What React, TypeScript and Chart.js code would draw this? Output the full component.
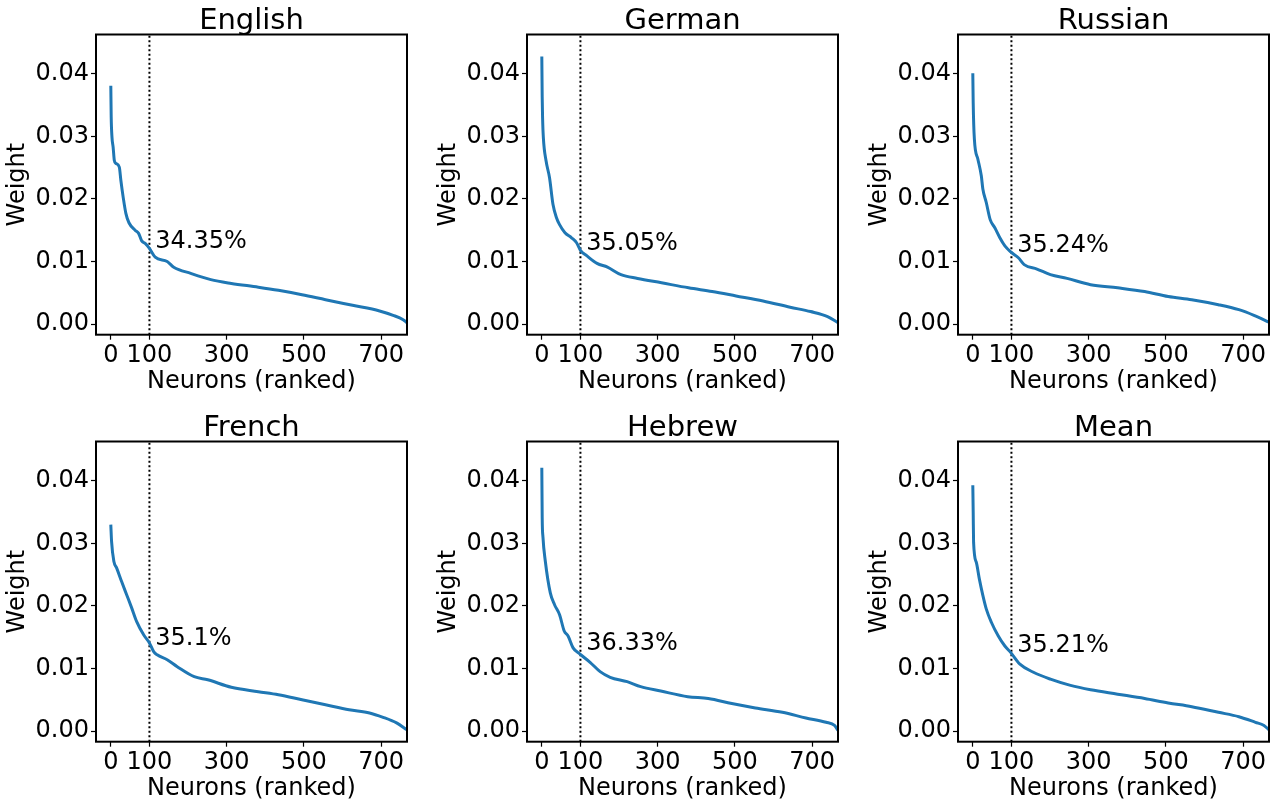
import React, { useEffect, useRef } from "react";
import { Chart, registerables } from "chart.js";

Chart.register(...registerables);

// ---------- data ----------
const TITLES = ["English", "German", "Russian", "French", "Hebrew", "Mean"];
const PERCENT_LABELS = ["34.35%", "35.05%", "35.24%", "35.1%", "36.33%", "35.21%"];
const LABEL_Y = [0.0121, 0.0119, 0.0116, 0.0138, 0.0129, 0.0126];
const LABEL_X = 115;
const CUTOFF = 100;
const X_TICKS = [0, 100, 300, 500, 700];
const Y_TICKS = [0, 0.01, 0.02, 0.03, 0.04];
const X_MIN = -38.35;
const X_MAX = 767;
const Y_MIN = -0.0017;
const Y_MAX = 0.0463;

const englishRanks = [0, 1, 3, 6, 9, 13, 22, 26, 32, 39, 47, 63, 72, 80, 89, 100, 115, 146, 163, 207, 259, 312, 382, 434, 495, 556, 626, 696, 731, 757, 767];
const englishWeights = [0.0381, 0.0331, 0.0299, 0.0283, 0.0262, 0.0257, 0.0251, 0.023, 0.0203, 0.0177, 0.0162, 0.015, 0.0145, 0.0133, 0.0129, 0.0121, 0.0107, 0.01, 0.0091, 0.0081, 0.0071, 0.0065, 0.0059, 0.0054, 0.0047, 0.0039, 0.003, 0.0021, 0.0014, 0.0007, 0.0002];

const germanRanks = [0, 1, 2, 4, 11, 20, 29, 38, 46, 60, 77, 90, 100, 117, 143, 170, 205, 248, 310, 380, 441, 503, 573, 643, 696, 740, 767];
const germanWeights = [0.0428, 0.0363, 0.033, 0.0298, 0.0261, 0.0234, 0.0191, 0.017, 0.0159, 0.0146, 0.0138, 0.013, 0.0118, 0.0109, 0.0097, 0.0091, 0.0079, 0.0073, 0.0066, 0.0058, 0.0052, 0.0045, 0.0037, 0.0027, 0.002, 0.0012, 0.0002];

const russianRanks = [0, 1, 4, 13, 22, 26, 35, 45, 57, 70, 83, 99, 118, 133, 166, 201, 244, 305, 375, 445, 506, 567, 636, 689, 728, 767];
const russianWeights = [0.0401, 0.0354, 0.0296, 0.0264, 0.0237, 0.0216, 0.0194, 0.0167, 0.0154, 0.0138, 0.0125, 0.0115, 0.0106, 0.0095, 0.0088, 0.0079, 0.0073, 0.0063, 0.0058, 0.0052, 0.0044, 0.0039, 0.0031, 0.0023, 0.0014, 0.0003];

const frenchRanks = [0, 2, 8, 15, 28, 41, 54, 67, 85, 100, 111, 120, 146, 172, 216, 251, 312, 382, 434, 495, 556, 617, 670, 705, 740, 767];
const frenchWeights = [0.033, 0.0303, 0.0271, 0.0261, 0.0239, 0.0218, 0.0197, 0.0175, 0.0154, 0.0141, 0.0127, 0.0122, 0.0114, 0.0103, 0.0087, 0.0082, 0.007, 0.0063, 0.0058, 0.005, 0.0042, 0.0034, 0.0029, 0.0022, 0.0013, 0.0002];

const hebrewRanks = [0, 1, 3, 9, 22, 33, 46, 58, 68, 81, 99, 125, 151, 177, 221, 256, 308, 378, 431, 492, 553, 623, 684, 736, 758, 767];
const hebrewWeights = [0.0421, 0.0342, 0.031, 0.0272, 0.0221, 0.0202, 0.0186, 0.016, 0.0152, 0.0133, 0.0123, 0.011, 0.0095, 0.0086, 0.0079, 0.0071, 0.0064, 0.0055, 0.0052, 0.0044, 0.0037, 0.003, 0.0021, 0.0014, 0.0009, 0.0001];

const meanRanks = [0, 1, 2, 9, 17, 26, 35, 48, 66, 83, 99, 122, 157, 201, 253, 305, 375, 445, 506, 567, 636, 689, 732, 754, 767];
const meanWeights = [0.0393, 0.035, 0.0302, 0.027, 0.0243, 0.0217, 0.0195, 0.0174, 0.0152, 0.0136, 0.0125, 0.0107, 0.0094, 0.0083, 0.0073, 0.0066, 0.0059, 0.0052, 0.0045, 0.0039, 0.003, 0.0023, 0.0014, 0.0009, 0.0002];

const SERIES_RANKS = [englishRanks, germanRanks, russianRanks, frenchRanks, hebrewRanks, meanRanks];
const SERIES_WEIGHTS = [englishWeights, germanWeights, russianWeights, frenchWeights, hebrewWeights, meanWeights];

// ---------- layout ----------
const CANVAS_W = 420;
const CANVAS_H = 400;
const PLOT_LEFT = 96;
const PLOT_TOP = 34.5;
const PLOT_RIGHT = 407;
const PLOT_BOTTOM = 334.7;
const COL_STEP = 431;
const ROW_STEP = 407;
const FONT = '"DejaVu Sans"';
const TICK_SIZE = 24;
const TITLE_SIZE = 29;
const LINE_BLUE = "#1f77b4";

function Panel({ index }: { index: number }) {
  const ref = useRef<HTMLCanvasElement | null>(null);

  useEffect(() => {
    const canvas = ref.current;
    if (!canvas) return;
    const ranks = SERIES_RANKS[index];
    const weights = SERIES_WEIGHTS[index];
    const curve = ranks.map((r, i) => ({ x: r, y: weights[i] }));

    const decor = {
      id: "decor",
      afterDraw(chart: any) {
        const { ctx, chartArea: a, scales } = chart;
        ctx.save();
        ctx.strokeStyle = "#000";
        ctx.lineWidth = 2;
        ctx.strokeRect(a.left, a.top, a.right - a.left, a.bottom - a.top);
        ctx.fillStyle = "#000";
        ctx.font = `${TICK_SIZE}px ${FONT}`;
        ctx.textAlign = "left";
        ctx.textBaseline = "alphabetic";
        ctx.fillText(
          PERCENT_LABELS[index],
          scales.x.getPixelForValue(LABEL_X),
          scales.y.getPixelForValue(LABEL_Y[index])
        );
        ctx.font = `${TITLE_SIZE}px ${FONT}`;
        ctx.textAlign = "center";
        ctx.fillText(TITLES[index], (a.left + a.right) / 2, a.top - 5.2);
        ctx.restore();
      },
    };

    const chart = new Chart(canvas, {
      type: "line",
      data: {
        datasets: [
          {
            data: curve,
            borderColor: LINE_BLUE,
            borderWidth: 3,
            pointRadius: 0,
            cubicInterpolationMode: "monotone",
            fill: false,
          },
          {
            data: [
              { x: CUTOFF, y: Y_MIN },
              { x: CUTOFF, y: Y_MAX },
            ],
            borderColor: "#000",
            borderWidth: 2,
            borderDash: [2, 2.5],
            pointRadius: 0,
            fill: false,
          },
        ],
      },
      options: {
        animation: false,
        responsive: false,
        devicePixelRatio: 1,
        layout: { padding: { left: 0, top: PLOT_TOP, right: CANVAS_W - PLOT_RIGHT, bottom: 0 } },
        plugins: { legend: { display: false }, tooltip: { enabled: false }, title: { display: false } },
        scales: {
          x: {
            type: "linear",
            min: X_MIN,
            max: X_MAX,
            afterBuildTicks: (s: any) => {
              s.ticks = X_TICKS.map((v) => ({ value: v }));
            },
            afterFit: (s: any) => {
              s.height = CANVAS_H - PLOT_BOTTOM;
            },
            grid: { display: true, drawOnChartArea: false, drawTicks: true, tickLength: 5, tickColor: "#000", tickWidth: 1.2 },
            border: { display: false },
            ticks: {
              color: "#000",
              font: { family: FONT, size: TICK_SIZE },
              padding: 2,
              maxRotation: 0,
              autoSkip: false,
              callback: (v: any) => String(v),
            },
            title: {
              display: true,
              text: "Neurons (ranked)",
              color: "#000",
              font: { family: FONT, size: TICK_SIZE },
              padding: { top: 0, bottom: 4.2 },
            },
          },
          y: {
            type: "linear",
            min: Y_MIN,
            max: Y_MAX,
            afterBuildTicks: (s: any) => {
              s.ticks = Y_TICKS.map((v) => ({ value: v }));
            },
            afterFit: (s: any) => {
              s.width = PLOT_LEFT;
            },
            grid: { display: true, drawOnChartArea: false, drawTicks: true, tickLength: 5, tickColor: "#000", tickWidth: 1.2 },
            border: { display: false },
            ticks: {
              color: "#000",
              font: { family: FONT, size: TICK_SIZE },
              padding: 2,
              autoSkip: false,
              callback: (v: any) => Number(v).toFixed(2),
            },
            title: {
              display: true,
              text: "Weight",
              color: "#000",
              font: { family: FONT, size: TICK_SIZE },
              padding: { top: 3.5, bottom: 0 },
            },
          },
        },
      },
      plugins: [decor],
    } as any);

    return () => chart.destroy();
  }, [index]);

  const col = index % 3;
  const row = Math.floor(index / 3);
  return (
    <canvas
      ref={ref}
      width={CANVAS_W}
      height={CANVAS_H}
      style={{
        position: "absolute",
        left: col * COL_STEP,
        top: row * ROW_STEP,
        width: CANVAS_W,
        height: CANVAS_H,
      }}
    />
  );
}

export default function App() {
  return (
    <div style={{ position: "absolute", left: 0, top: 0, width: 1275, height: 808, background: "#fff" }}>
      {TITLES.map((_, i) => (
        <Panel key={i} index={i} />
      ))}
    </div>
  );
}
